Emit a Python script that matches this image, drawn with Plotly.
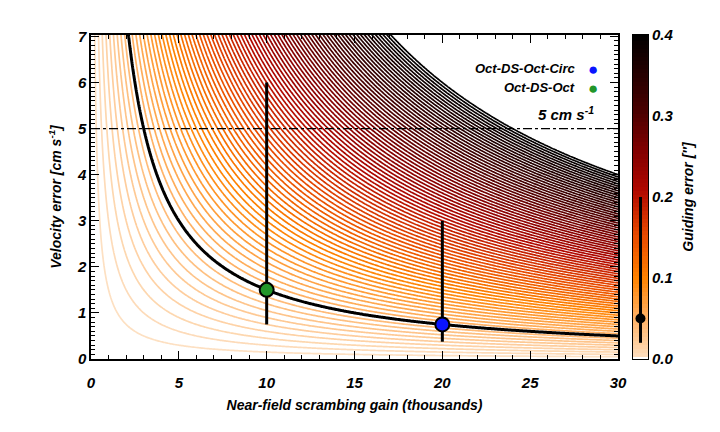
import numpy as np
import plotly.graph_objects as go

# ── data ─────────────────────────────────────────────────────────────────────
# guiding-error levels drawn as iso-curves (arcsec)
guiding_levels = np.round(np.arange(0.005, 0.4001, 0.005), 3)
guiding_ref = 0.05                    # highlighted black curve
guiding_ref_lo, guiding_ref_hi = 0.02, 0.2

# velocity error  = K * guiding error / gain
K_VEL = 300.0

configs   = ["Oct-DS-Oct-Circ", "Oct-DS-Oct"]
cfg_gain  = [20, 10]
cfg_vel   = [0.75, 1.5]
cfg_lo    = [0.375, 0.75]
cfg_hi    = [3.0, 6.0]
cfg_color = ["#0a14ff", "#22962a"]

vel_limit = 5.0

gain_grid = np.linspace(0, 30, 301)
vel_grid  = np.linspace(0, 7.1, 285)
Z = gain_grid[None, :] * vel_grid[:, None] / K_VEL

HEAT = [
    [0.00, "#fde0c2"],
    [0.12, "#ffb46a"],
    [0.25, "#ff8200"],
    [0.38, "#e84a00"],
    [0.52, "#b00800"],
    [0.64, "#820000"],
    [0.76, "#4c0000"],
    [0.88, "#240000"],
    [1.00, "#000000"],
]

FONT = dict(family="Liberation Sans", size=14, color="black",
            weight="bold", style="italic")

fig = go.Figure()

# ── iso-curves ───────────────────────────────────────────────────────────────
fig.add_trace(go.Contour(
    x=gain_grid, y=vel_grid, z=Z,
    zmin=0, zmax=0.4,
    contours=dict(start=guiding_levels[0], end=guiding_levels[-1],
                  size=0.005, coloring="lines"),
    colorscale=HEAT, showscale=False,
    line=dict(width=1.7, smoothing=1),
    hoverinfo="skip",
))
fig.add_trace(go.Contour(
    x=gain_grid, y=vel_grid, z=Z,
    contours=dict(start=guiding_ref, end=guiding_ref, size=1,
                  coloring="none"),
    line=dict(width=3, color="black", smoothing=1),
    showscale=False, hoverinfo="skip",
))

# ── configurations ───────────────────────────────────────────────────────────
for name, g, v, lo, hi, c in zip(configs, cfg_gain, cfg_vel, cfg_lo, cfg_hi, cfg_color):
    fig.add_trace(go.Scatter(
        x=[g], y=[v], mode="markers", name=name,
        marker=dict(size=14, color=c, line=dict(color="black", width=2)),
        error_y=dict(type="data", symmetric=False,
                     array=[hi - v], arrayminus=[v - lo],
                     color="black", thickness=3, width=0),
        showlegend=False,
    ))

fig.add_shape(type="line", x0=0, x1=30, y0=vel_limit, y1=vel_limit,
              line=dict(color="black", width=1.2, dash="dashdot"))

# legend-style labels (text left of dot)
for i, (name, c) in enumerate(zip(configs, cfg_color)):
    yy = 6.3 - i * 0.4
    fig.add_annotation(x=27.65, y=yy, text=name, showarrow=False,
                       xanchor="right", font={**FONT, "size": 13})
    fig.add_annotation(x=28.55, y=yy, text="●", showarrow=False,
                       font=dict(size=17, color=c))
fig.add_annotation(x=28.75, y=5.33, text="5 cm s<sup>-1</sup>", showarrow=False,
                   xanchor="right", font={**FONT, "size": 15})

# ── colour bar (own axes so the marker can sit inside) ───────────────────────
fig.add_trace(go.Heatmap(
    x=[0], y=guiding_levels, z=[[v] for v in guiding_levels],
    zmin=0, zmax=0.4, colorscale=HEAT, showscale=False,
    xaxis="x2", yaxis="y2", hoverinfo="skip",
))
fig.add_trace(go.Scatter(
    x=[0], y=[guiding_ref], mode="markers", xaxis="x2", yaxis="y2",
    marker=dict(size=10, color="black"),
    error_y=dict(type="data", symmetric=False,
                 array=[guiding_ref_hi - guiding_ref],
                 arrayminus=[guiding_ref - guiding_ref_lo],
                 color="black", thickness=3, width=0),
    showlegend=False,
))

axis_common = dict(showline=True, linecolor="black", linewidth=1.5,
                   mirror="ticks", ticks="inside", showgrid=False,
                   zeroline=False, tickcolor="black", automargin=False)

# page body adds an 8 px offset, so margins are shifted to compensate
fig.update_layout(
    width=720, height=432,
    margin=dict(l=83, r=50, t=27, b=81),
    plot_bgcolor="white", paper_bgcolor="white",
    showlegend=False,
    xaxis=dict(**axis_common, domain=[0, 0.8978], range=[0, 30],
               dtick=5, ticklen=8, ticklabelstandoff=9,
               tickfont={**FONT, "size": 15},
               minor=dict(ticks="inside", dtick=1, ticklen=4, tickcolor="black"),
               title=dict(text="Near-field scrambing gain (thousands)", font=FONT,
                          standoff=10)),
    yaxis=dict(**axis_common, range=[0, 7.03], dtick=1, ticklen=8,
               tickfont={**FONT, "size": 15},
               minor=dict(ticks="inside", dtick=0.1, ticklen=4, tickcolor="black"),
               title=dict(text="Velocity error [cm s<sup>-1</sup>]", font=FONT,
                          standoff=12)),
    xaxis2=dict(domain=[0.9233, 0.9489], range=[-0.5, 0.5], showline=True,
                linecolor="black", linewidth=1, mirror=True, showticklabels=False,
                ticks="", showgrid=False, zeroline=False, anchor="y2",
                automargin=False),
    yaxis2=dict(domain=[0, 1], range=[0, 0.4], side="right", anchor="x2",
                showline=True, linecolor="black", linewidth=1, mirror=True,
                ticks="", showgrid=False, zeroline=False, dtick=0.1,
                tickformat=".1f", tickfont={**FONT, "size": 15}, automargin=False,
                title=dict(text="Guiding error [″]", font=FONT, standoff=10)),
)

fig.write_html("out.html")
